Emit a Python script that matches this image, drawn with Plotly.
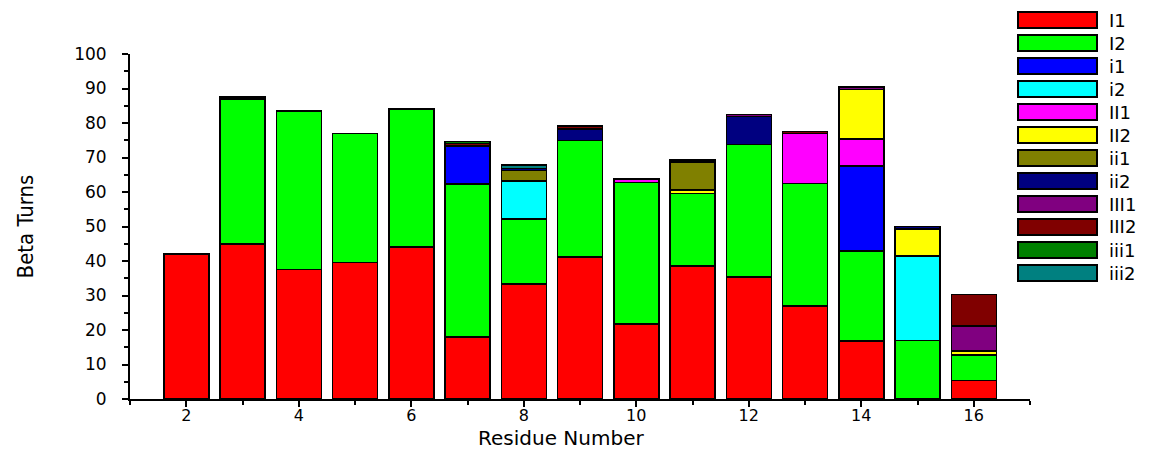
import plotly.graph_objects as go

residues = [2, 3, 4, 5, 6, 7, 8, 9, 10, 11, 12, 13, 14, 15, 16]
N = None
I1   = [42, 45, 37.5, 39.5, 44, 18, 33.3, 41.2, 21.7, 38.6, 35.4, 27, 16.8, N, 5.3]
I2   = [N, 42.0, 46, 37.5, 40, 44.3, 18.9, 33.7, 41.1, 21, 38.4, 35.4, 26.1, 17.0, 7.5]
i1   = [N, N, N, N, N, 11, N, N, N, N, N, N, 24.6, N, N]
i2   = [N, N, N, N, N, N, 11, N, N, N, N, N, N, 24.4, N]
II1  = [N, N, N, N, N, N, N, N, 0.9, N, N, 14.6, 7.9, N, N]
II2  = [N, N, N, N, N, N, N, N, N, 1.0, N, N, 14.3, 7.9, 1.1]
ii1  = [N, N, N, N, N, N, 3.1, N, N, 8.1, N, N, N, N, N]
ii2  = [N, N, N, N, N, N, 0.5, 3.4, N, N, 8.1, N, N, 0.7, N]
III1 = [N, 0.5, N, N, N, N, N, N, N, 0.6, 0.6, N, 0.8, N, 7.3]
III2 = [N, N, N, N, N, 0.8, N, 0.8, N, N, N, 0.6, N, N, 9.1]
iii1 = [N, N, N, N, N, 0.6, N, N, N, N, N, N, N, N, N]
iii2 = [N, N, N, N, N, N, 1.0, N, N, N, N, N, N, N, N]

series_names = ["I1", "I2", "i1", "i2", "II1", "II2", "ii1", "ii2", "III1", "III2", "iii1", "iii2"]
series_vals = [I1, I2, i1, i2, II1, II2, ii1, ii2, III1, III2, iii1, iii2]
colors = ["#FF0000", "#00FF00", "#0000FF", "#00FFFF", "#FF00FF", "#FFFF00",
          "#808000", "#000080", "#800080", "#800000", "#008000", "#008080"]

fig = go.Figure()
for name, vals, col in zip(series_names, series_vals, colors):
    fig.add_trace(go.Bar(
        x=residues, y=vals, name=name, width=0.8,
        marker=dict(color=col, line=dict(color="black", width=1.5)),
        showlegend=False,
    ))

W, H = 1157, 452
L, R, T, B = 130, 127, 54, 53
pw, ph = W - L - R, H - T - B

def px_x(x):
    return (x - L) / pw

def px_y(y):
    return (H - B - y) / ph

shapes = []
annotations = []
for k, (name, col) in enumerate(zip(series_names, colors)):
    yc = 20 + 23 * k
    shapes.append(dict(type="rect", xref="paper", yref="paper",
                       x0=px_x(1018), x1=px_x(1097), y0=px_y(yc + 8), y1=px_y(yc - 8),
                       fillcolor=col, line=dict(color="black", width=2)))
    annotations.append(dict(xref="paper", yref="paper", x=px_x(1107), y=px_y(yc),
                            xanchor="left", yanchor="middle", showarrow=False,
                            text=name, font=dict(family="DejaVu Sans", size=18, color="black")))

# x-axis title
annotations.append(dict(xref="paper", yref="paper", x=px_x(561), y=px_y(451),
                        xanchor="center", yanchor="bottom", showarrow=False, borderpad=0,
                        text="Residue Number",
                        font=dict(family="DejaVu Sans", size=20, color="black")))

fig.update_layout(
    barmode="stack",
    width=W, height=H,
    margin=dict(l=L, r=R, t=T, b=B, pad=0),
    plot_bgcolor="white", paper_bgcolor="white",
    shapes=shapes, annotations=annotations,
    font=dict(family="DejaVu Sans", color="black"),
)
fig.update_xaxes(
    range=[1, 17], tick0=0, dtick=2, ticks="outside", ticklen=6, tickwidth=1.5,
    tickcolor="black", showline=True, linecolor="black", linewidth=2,
    showgrid=False, zeroline=False, automargin=False,
    minor=dict(dtick=1, tick0=0, ticks="outside", ticklen=4, tickcolor="black", tickwidth=1.5, showgrid=False),
    tickfont=dict(family="DejaVu Sans", size=16, color="black"),
    ticklabelstandoff=-5,
)
fig.update_yaxes(
    range=[0, 100], tick0=0, dtick=10, ticks="outside", ticklen=6, tickwidth=1.5,
    tickcolor="black", showline=True, linecolor="black", linewidth=2,
    showgrid=False, zeroline=False, automargin=False,
    minor=dict(dtick=5, tick0=0, ticks="outside", ticklen=4, tickcolor="black", tickwidth=1.5, showgrid=False),
    tickfont=dict(family="DejaVu Sans", size=17, color="black"),
    ticklabelstandoff=12,
    title=dict(text="Beta Turns", font=dict(family="Liberation Sans Narrow, DejaVu Sans Condensed", size=22, color="black"), standoff=34),
)

fig.write_html("out.html")
